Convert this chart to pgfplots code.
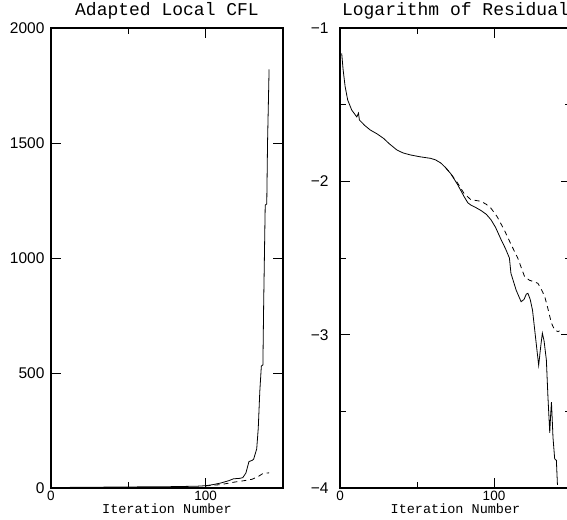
\documentclass[border=0pt]{standalone}
\usepackage{fontspec}
\setmainfont{Liberation Sans}
\newfontfamily\monof{Liberation Mono}
\usepackage{pgfplots}
\pgfplotsset{compat=1.18}
\begin{document}
\begin{tikzpicture}
\pgfplotsset{
  every axis/.append style={
    scale only axis, height=460pt, xmin=0, xmax=150,
    xtick={0,100}, minor xtick={50},
    major tick length=10pt, minor tick length=6pt,
    axis line style={line width=1.1pt},
    every tick/.style={black, line width=0.9pt},
    every y tick label/.append style={font=\fontsize{15.5}{17}\selectfont},
    every x tick label/.append style={font=\fontsize{13.5}{15}\selectfont},
    xticklabel style={anchor=base, inner sep=0pt, yshift=-12.5pt},
    yticklabel style={xshift=-3pt},
    /pgf/number format/assume math mode=true,
    /pgf/number format/1000 sep={},
    title style={font=\monof\fontsize{18}{20}\selectfont, at={(0.5,1)}, anchor=base, inner sep=0pt, yshift=6pt},
    xlabel style={font=\monof\fontsize{13.5}{15}\selectfont, at={(0.5,0)}, anchor=base, inner sep=0pt, yshift=-25.5pt},
  },
  solidline/.style={black, line width=0.8pt},
  dashline/.style={black, line width=0.8pt, dash pattern=on 5pt off 4pt},
}
% Left: Adapted Local CFL
\begin{axis}[at={(51pt,31pt)}, anchor=south west, width=232pt,
  ymin=0, ymax=2000, ytick={0,500,1000,1500,2000},
  title={Adapted Local CFL}, xlabel={Iteration Number}]
\addplot[solidline] coordinates {
(0,2) (20,3) (40,4) (60,5) (80,6) (95,8) (100,10) (105,15) (110,22) (115,32)
(118,40) (122,42) (124,45) (126,65) (128,115) (130,120) (131,125) (133,170)
(134,260) (135,420) (136,530) (137,535) (137.5,800) (138.5,1230) (139.5,1235)
(140,1500) (141,1820)};
\addplot[dashline] coordinates {
(100,9) (110,15) (118,25) (125,32) (130,38) (134,50) (137,63) (141,66)};
\end{axis}
\begin{axis}[at={(51pt,31pt)}, anchor=south west, width=232pt,
  ymin=0, ymax=2000, ytick=\empty, xtick=\empty, minor xtick={},
  minor ytick={100,200,300,400,500,600,700,800,900,1000,1100,1200,1300,1400,1500,1600,1700,1800,1900},
  ytick pos=right]
\end{axis}
% Right: Logarithm of Residual
\begin{axis}[at={(340pt,31pt)}, anchor=south west, width=231pt,
  ymin=-4, ymax=-1, ytick={-4,-3,-2,-1}, yticklabels={−4,−3,−2,−1},
  minor ytick={-3.5,-2.5,-1.5},
  yticklabel style={xshift=-5pt},
  title={Logarithm of Residual}, xlabel={Iteration Number}]
\addplot[solidline] coordinates {
(1.1,-1.165) (2,-1.27) (3.3,-1.38) (5,-1.47) (7.6,-1.535) (10.9,-1.58) (12,-1.555)
(12.6,-1.60) (16,-1.635) (19.6,-1.665) (24,-1.69) (28.3,-1.72) (32,-1.755)
(37,-1.796) (41,-1.815) (45.8,-1.828) (52,-1.84) (58.8,-1.85) (62,-1.86)
(65.4,-1.88) (68.5,-1.91) (71.9,-1.95) (76.3,-2.02) (80.6,-2.10) (83,-2.14)
(85,-2.155) (88,-2.17) (91.5,-2.19) (95,-2.215) (98,-2.25) (101,-2.30)
(104.6,-2.38) (107.5,-2.44) (110,-2.50) (111,-2.60) (114.4,-2.71) (117.6,-2.785)
(119.5,-2.77) (121,-2.735) (122,-2.73) (123.5,-2.77) (125,-2.84) (127,-3.02)
(129,-3.20) (130.3,-3.08) (131.4,-2.99) (132.5,-3.04) (134,-3.165) (135,-3.40)
(136.2,-3.64) (136.8,-3.52) (137.3,-3.44) (137.8,-3.55) (138.3,-3.67)
(139.4,-3.81) (140.5,-3.82) (141.2,-3.98)};
\addplot[dashline] coordinates {
(68.5,-1.91) (71.9,-1.95) (76.3,-2.01) (80.6,-2.08) (85,-2.12) (91.5,-2.13)
(95,-2.15) (98,-2.175) (102,-2.23) (106.8,-2.32) (111,-2.41) (115.4,-2.50)
(117.6,-2.56) (119.8,-2.62) (123,-2.645) (126,-2.655) (128.5,-2.665)
(130.5,-2.70) (132.9,-2.75) (135,-2.83) (137.3,-2.925) (139.4,-2.97)
(141.6,-2.98) (142.5,-2.975)};
\end{axis}
\pgfresetboundingbox
\useasboundingbox (0pt,0pt) rectangle (567pt,519pt);
\end{tikzpicture}
\end{document}
